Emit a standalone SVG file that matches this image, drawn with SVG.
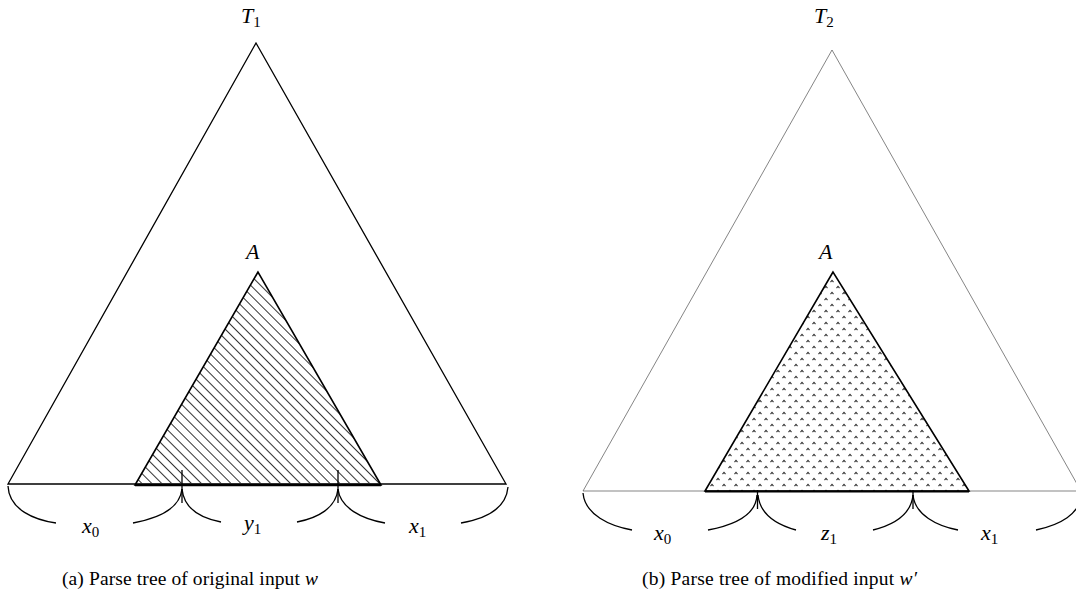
<svg xmlns="http://www.w3.org/2000/svg" width="1076" height="595" viewBox="0 0 1076 595">
<style>
.m{font-family:"Liberation Serif","DejaVu Serif",serif;font-style:italic;font-size:22px;fill:#000}
.s{font-style:normal;font-size:15px}
.cap{font-family:"Liberation Serif","DejaVu Serif",serif;font-size:19.5px;fill:#000}
.outer{fill:none;stroke:#000;stroke-width:1.3;stroke-linejoin:miter}
.outerThin{fill:none;stroke:#333;stroke-width:0.6}
.inner{stroke:#000;stroke-width:1.6;stroke-linejoin:miter}
.brace{fill:none;stroke:#000;stroke-width:1.3}
</style>
<defs>
<pattern id="hatch" patternUnits="userSpaceOnUse" width="7" height="7" patternTransform="rotate(45)">
<line x1="0" y1="3.5" x2="7" y2="3.5" stroke="#333" stroke-width="1"/>
</pattern>
<pattern id="dots" patternUnits="userSpaceOnUse" width="12" height="12" x="1" y="2">
<path d="M1.5 4.2 L3 2.4 L4.5 4.2 M7.5 10.2 L9 8.4 L10.5 10.2" fill="none" stroke="#333" stroke-width="1.1"/>
</pattern>
</defs>
<g id="treeA">
<g id="T1">
<polygon class="outer" points="256,43 8,484 506,484"/>
<text class="m" x="241" y="23">T<tspan class="s" dy="4">1</tspan></text>
</g>
<g id="A1">
<polygon class="inner" fill="url(#hatch)" points="258,272 135,485 381,485"/>
<line x1="135" y1="485" x2="381" y2="485" stroke="#000" stroke-width="2.4"/>
<text class="m" x="246" y="259">A</text>
</g>
<g id="bracesA">
<line x1="182" y1="470" x2="182" y2="503" stroke="#000" stroke-width="1.3"/>
<line x1="338" y1="470" x2="338" y2="503" stroke="#000" stroke-width="1.3"/>
<path class="brace" d="M8 486 C9 510 35 520 56 523 M133 523 C160 518 180 508 182 489"/>
<path class="brace" d="M182 489 C184 508 200 518 221 522 M297 522 C318 518 336 508 338 489"/>
<path class="brace" d="M338 489 C340 508 362 519 385 523 M461 523 C484 519 506 510 508 487"/>
<text class="m" x="82" y="533">x<tspan class="s" dy="4">0</tspan></text>
<text class="m" x="244" y="530">y<tspan class="s" dy="4">1</tspan></text>
<text class="m" x="409" y="533">x<tspan class="s" dy="4">1</tspan></text>
</g>
<text class="cap" x="62" y="585" textLength="256" lengthAdjust="spacing">(a) Parse tree of original input <tspan font-style="italic">w</tspan></text>
</g>
<g id="treeB">
<g id="T2">
<polygon class="outerThin" points="832,50 583,491 1081,491"/>
<text class="m" x="814" y="23">T<tspan class="s" dy="4">2</tspan></text>
</g>
<g id="A2">
<polygon class="inner" fill="url(#dots)" points="833,272 705,491 969,491"/>
<line x1="705" y1="491.5" x2="969" y2="491.5" stroke="#000" stroke-width="2.2"/>
<text class="m" x="819" y="259">A</text>
</g>
<g id="bracesB">
<line x1="757.5" y1="490" x2="757.5" y2="509" stroke="#000" stroke-width="1.3"/>
<line x1="913" y1="490" x2="913" y2="509" stroke="#000" stroke-width="1.3"/>
<path class="brace" d="M583 493 C585 515 610 526 632 530 M708 530 C735 525 756 515 757 495"/>
<path class="brace" d="M758 495 C760 515 778 525 796 530 M873 530 C893 525 911 515 913 495"/>
<path class="brace" d="M913 495 C915 515 937 526 958 530 M1036 530 C1060 525 1080 514 1081 495"/>
<text class="m" x="654" y="540">x<tspan class="s" dy="4">0</tspan></text>
<text class="m" x="821" y="540">z<tspan class="s" dy="4">1</tspan></text>
<text class="m" x="981" y="540">x<tspan class="s" dy="4">1</tspan></text>
</g>
<text class="cap" x="642" y="585" textLength="275" lengthAdjust="spacing">(b) Parse tree of modified input <tspan font-style="italic">w′</tspan></text>
</g>
</svg>
